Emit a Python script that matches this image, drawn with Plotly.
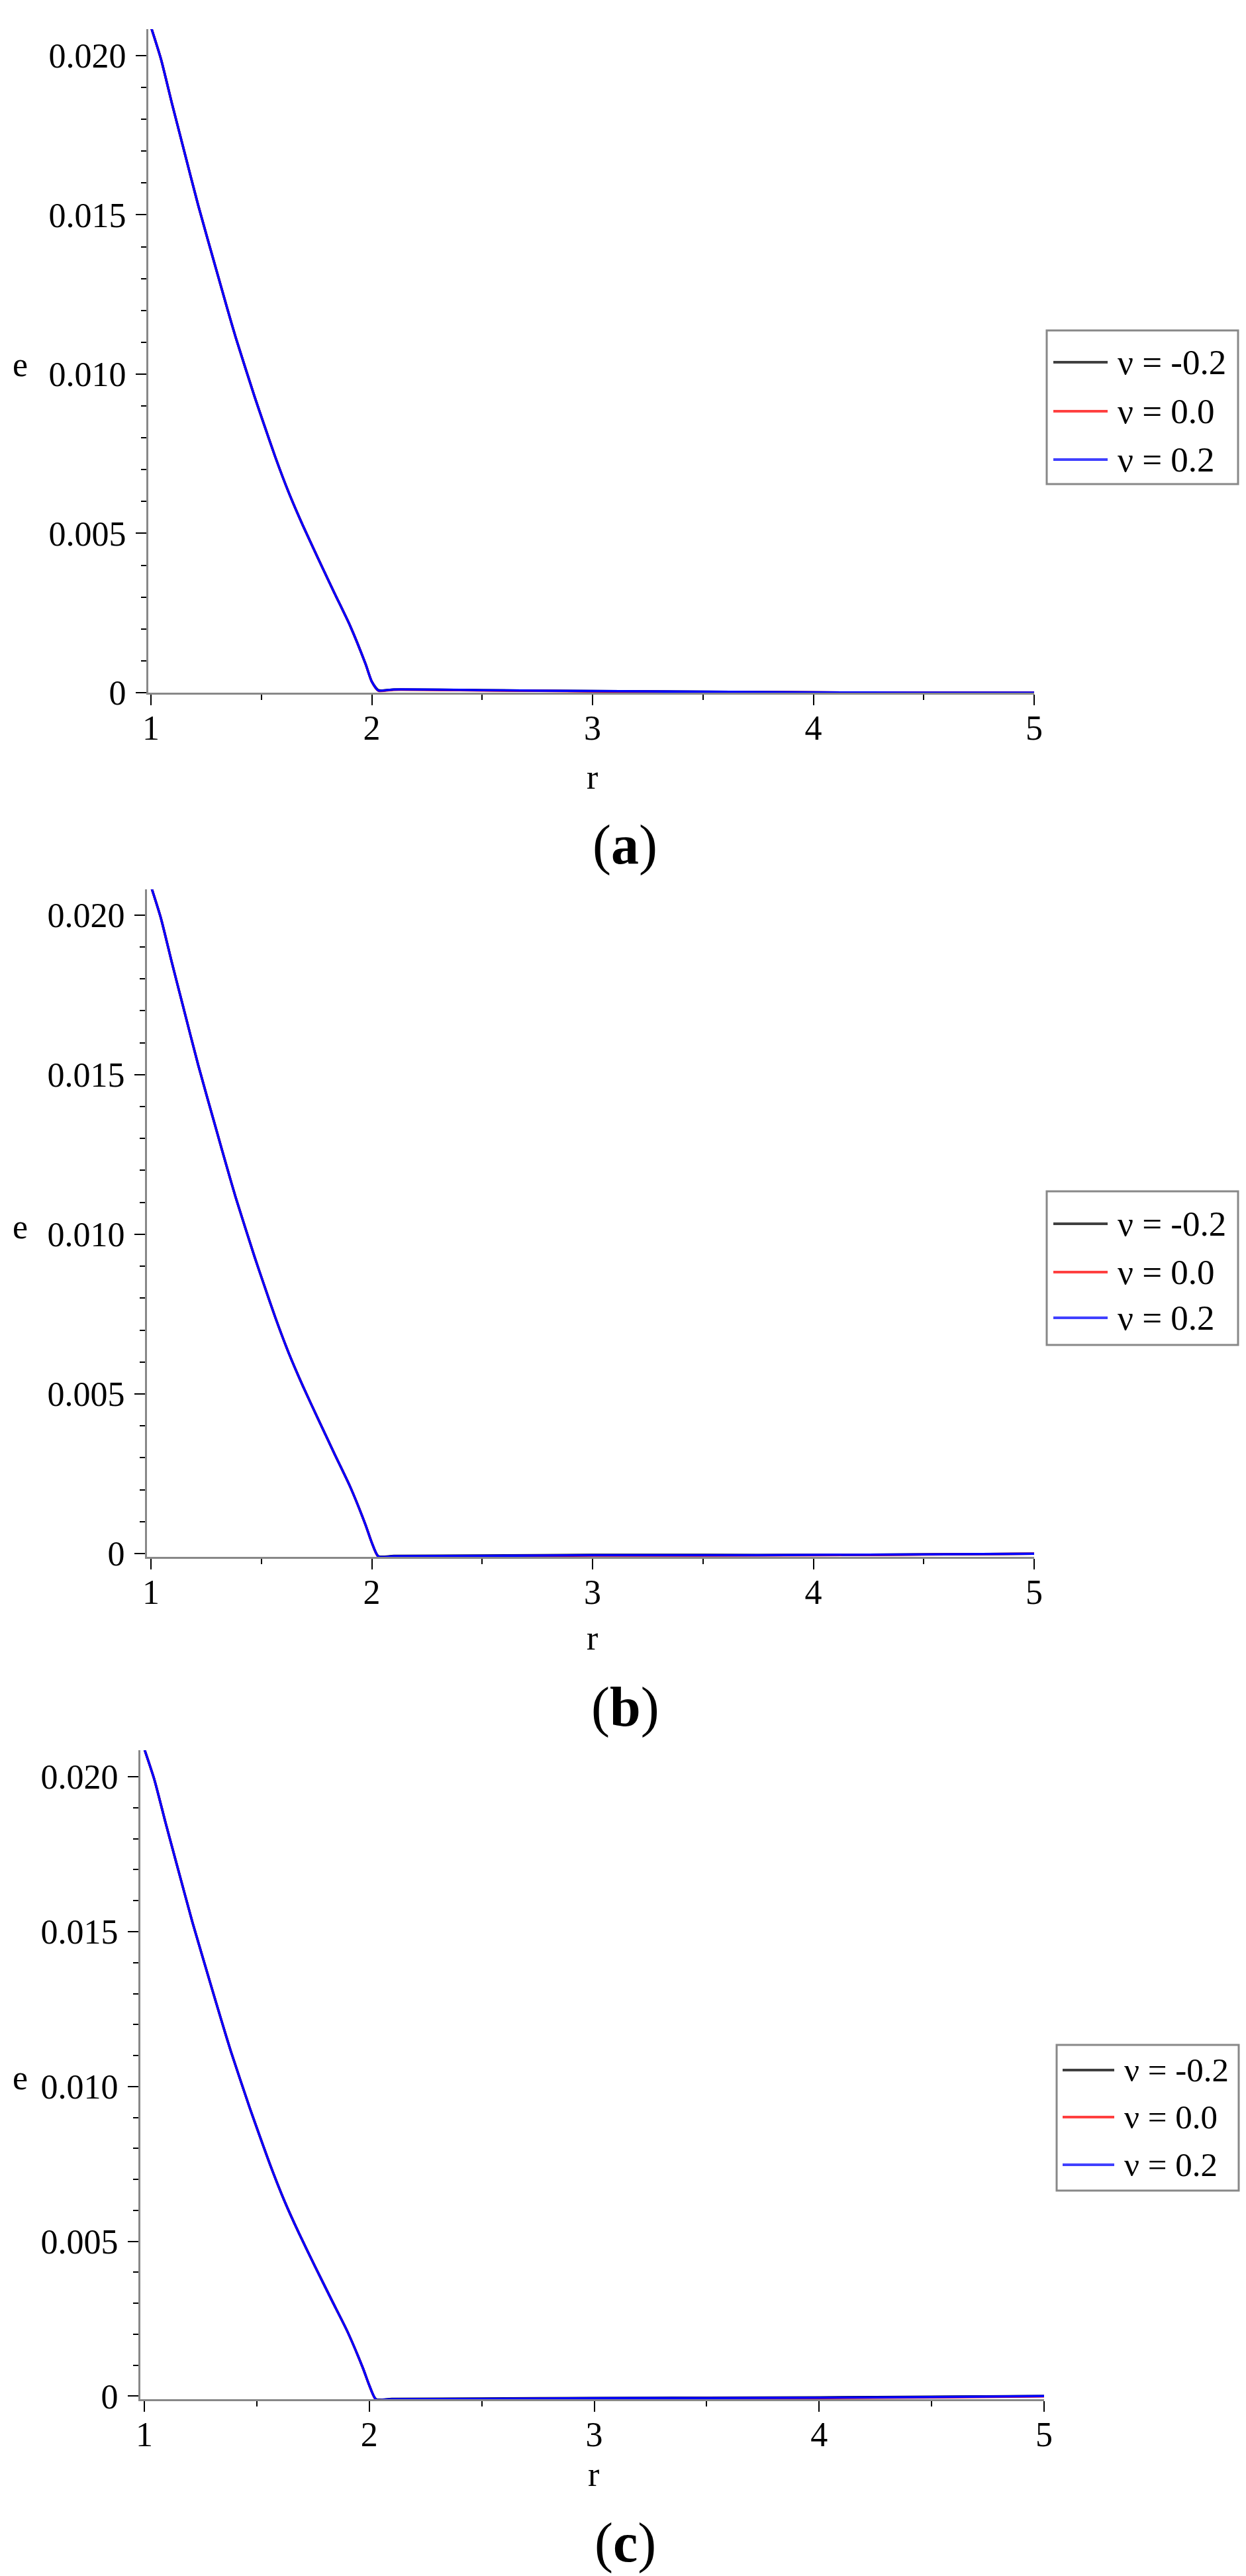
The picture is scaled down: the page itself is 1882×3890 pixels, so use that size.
import plotly.graph_objects as go

# r values read along the falling part (shared by every curve)
r_drop = [1.000, 1.045, 1.095, 1.145, 1.214, 1.299, 1.344, 1.384, 1.469, 1.513,
          1.563, 1.623, 1.688, 1.758, 1.833, 1.902, 1.972, 2.000]
e_drop = [0.0209, 0.0199, 0.0185, 0.01715, 0.0153, 0.0132, 0.0121, 0.01115, 0.0093, 0.0084,
          0.0074, 0.0063, 0.00525, 0.0042, 0.0031, 0.0021, 0.0009, 0.00035]

r_tail = [2.03, 2.1, 2.5, 3.0, 3.5, 4.0, 4.5, 5.0]

# tails after r = 2 for each panel and nu
tail_a = {
    "-0.2": [0.00008, 0.00010, 0.00008, 0.00005, 0.00003, 0.00001, 0.0, 0.0],
    "0.0": [0.00006, 0.00009, 0.00007, 0.00004, 0.00002, 0.00001, 0.0, 0.0],
    "0.2": [0.00007, 0.00010, 0.00008, 0.00005, 0.00003, 0.00001, 0.0, 0.0],
}
tail_b = {
    "-0.2": [-0.00008, -0.00007, -0.00006, -0.00004, -0.00004, -0.00004, -0.00002, 0.0],
    "0.0": [-0.00010, -0.00009, -0.00008, -0.00006, -0.00006, -0.00005, -0.00003, 0.0],
    "0.2": [-0.00009, -0.00008, -0.00007, -0.00005, -0.00005, -0.00004, -0.00002, 0.0],
}
tail_c = {
    "-0.2": [-0.00010, -0.00009, -0.00008, -0.00006, -0.00005, -0.00004, -0.00002, 0.0],
    "0.0": [-0.00012, -0.00011, -0.00010, -0.00008, -0.00007, -0.00006, -0.00004, -0.00001],
    "0.2": [-0.00011, -0.00010, -0.00009, -0.00007, -0.00006, -0.00005, -0.00003, 0.0],
}

nu_labels = ["-0.2", "0.0", "0.2"]
colors = ["#000000", "#ff0000", "#0000ff"]
legend_colors = ["#404040", "#ff4040", "#4040ff"]

y_tickvals = [0, 0.005, 0.010, 0.015, 0.020]
y_ticktext = ["0", "0.005", "0.010", "0.015", "0.020"]
x_tickvals = [1, 2, 3, 4, 5]
panel_names = ["a", "b", "c"]

W, H = 1882, 3890
FONT = "Liberation Serif, Times New Roman, serif"

# pixel boxes of each plot area (left, right, top, bottom) and axis ranges
panels = [
    dict(tails=tail_a, px=(216, 1554, 36, 1038), xr=[0.988, 5], yr=[0, 0.02083],
         box=(1573, 1862, 491, 723), rows=(48, 122, 195), sample=(1583, 1665, 1678), fs=53,
         e_y=543, r_xy=(886, 1165), cap_y=1268),
    dict(tails=tail_b, px=(214, 1554, 1335, 2343), xr=[0.982, 5], yr=[-0.0001, 0.0208],
         box=(1573, 1862, 1791, 2023), rows=(49, 122, 191), sample=(1583, 1665, 1678), fs=53,
         e_y=1845, r_xy=(886, 2465), cap_y=2570),
    dict(tails=tail_c, px=(204, 1569, 2635, 3615), xr=[0.9823, 5], yr=[-0.0001, 0.02086],
         box=(1588, 1863, 3080, 3300), rows=(38, 109, 181), sample=(1597, 1675, 1688), fs=51,
         e_y=3129, r_xy=(888, 3728), cap_y=3832),
]

fig = go.Figure()
annotations = []
shapes = []
txt = dict(family=FONT, size=52, color="black")

for i, p in enumerate(panels):
    n = "" if i == 0 else str(i + 1)
    for k, nu in enumerate(nu_labels):
        fig.add_trace(go.Scatter(
            x=r_drop + r_tail, y=e_drop + p["tails"][nu],
            mode="lines", line=dict(color=colors[k], width=3.5, shape="spline", smoothing=0.6),
            name="\u03bd = " + nu, xaxis="x" + n, yaxis="y" + n, showlegend=False,
        ))
    left, right, top, bottom = p["px"]
    axis_common = dict(
        showgrid=False, zeroline=False, showline=True, linecolor="#888888", linewidth=3,
        ticks="outside", ticklen=16, tickwidth=2, tickcolor="black",
        tickfont=txt, automargin=False,
    )
    fig.update_layout({
        "xaxis" + n: dict(
            domain=[left / W, right / W], range=p["xr"], anchor="y" + n,
            tickvals=x_tickvals, ticklabelstandoff=-10,
            minor=dict(dtick=0.5, tick0=1, ticks="outside", ticklen=8, tickwidth=2, tickcolor="black"),
            **axis_common),
        "yaxis" + n: dict(
            domain=[1 - bottom / H, 1 - top / H], range=p["yr"], anchor="x" + n,
            tickvals=y_tickvals, ticktext=y_ticktext, ticklabelstandoff=4,
            minor=dict(dtick=0.001, tick0=0, ticks="outside", ticklen=8, tickwidth=2, tickcolor="black"),
            **axis_common),
    })

    # legend box drawn by hand so the line samples can be long like the original
    bx0, bx1, by0, by1 = p["box"]
    shapes.append(dict(type="rect", xref="paper", yref="paper",
                       x0=bx0 / W, x1=bx1 / W, y0=1 - by1 / H, y1=1 - by0 / H,
                       line=dict(color="#888888", width=3), fillcolor="white", layer="above"))
    sx0, sx1, tx = p["sample"]
    for k, nu in enumerate(nu_labels):
        yy = 1 - (by0 + p["rows"][k]) / H
        shapes.append(dict(type="line", xref="paper", yref="paper",
                           x0=sx0 / W, x1=sx1 / W, y0=yy, y1=yy,
                           line=dict(color=legend_colors[k], width=4), layer="above"))
        annotations.append(dict(text="\u03bd = " + nu, x=tx / W, y=yy, xref="paper", yref="paper",
                                xanchor="left", yanchor="middle", showarrow=False,
                                font=dict(family=FONT, size=p["fs"], color="black")))

    annotations.append(dict(text="e", x=22 / W, y=1 - p["e_y"] / H, xref="paper", yref="paper",
                            xanchor="center", yanchor="middle", showarrow=False, font=txt))
    annotations.append(dict(text="r", x=p["r_xy"][0] / W, y=1 - p["r_xy"][1] / H, xref="paper",
                            yref="paper", xanchor="center", yanchor="middle", showarrow=False,
                            font=txt))
    annotations.append(dict(text="(<b>" + panel_names[i] + "</b>)", x=936 / W, y=1 - p["cap_y"] / H,
                            xref="paper", yref="paper", xanchor="center", yanchor="middle",
                            showarrow=False, font=dict(family=FONT, size=84, color="black")))

fig.update_layout(
    width=W, height=H, margin=dict(l=0, r=0, t=0, b=0),
    paper_bgcolor="white", plot_bgcolor="white", font=dict(family=FONT, color="black"),
    annotations=annotations, shapes=shapes, showlegend=False,
)

fig.write_html("out.html")
